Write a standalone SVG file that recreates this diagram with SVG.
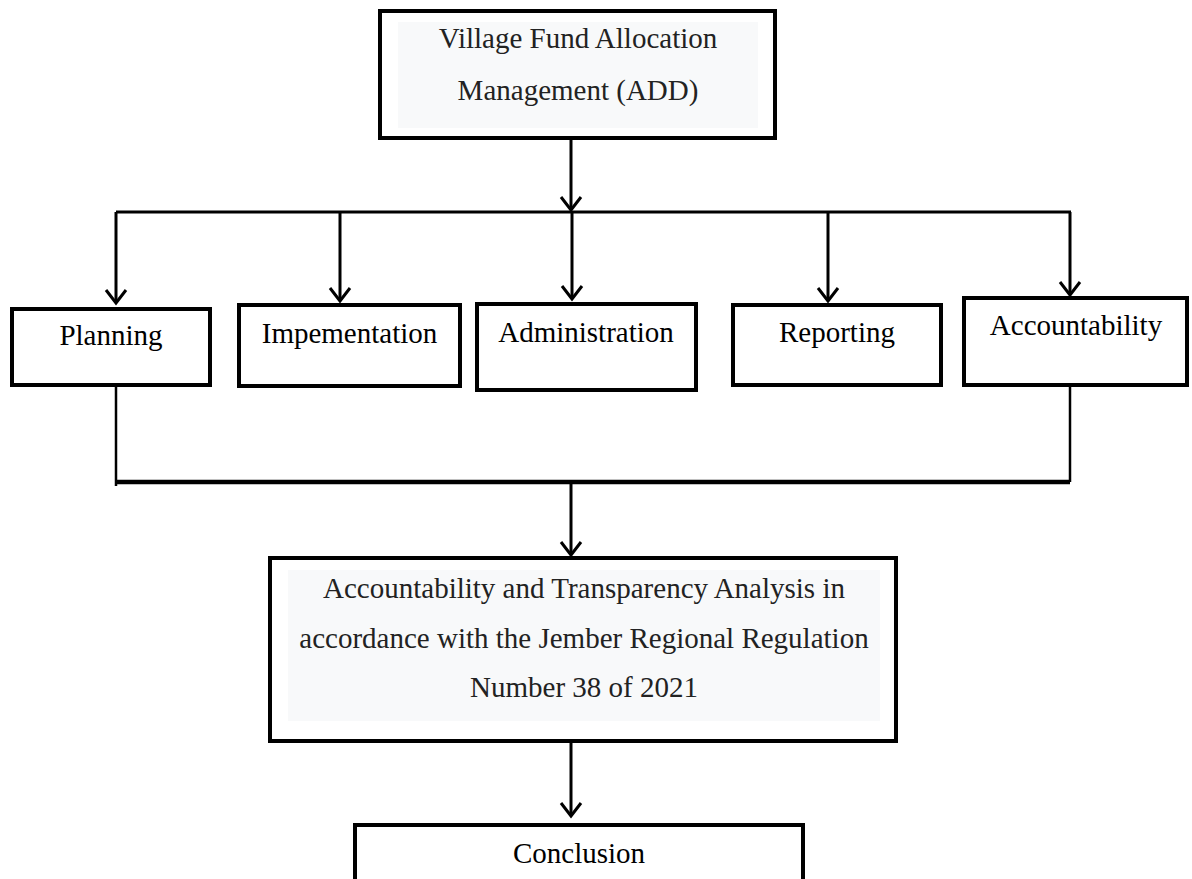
<svg xmlns="http://www.w3.org/2000/svg" width="1192" height="879" viewBox="0 0 1192 879">
<style>
.box{fill:#fff;stroke:#000;stroke-width:4}
.pane{fill:#f8f9fa;stroke:none}
.t{font-family:"Liberation Serif","Times New Roman",serif;font-size:29px;text-anchor:middle;fill:#000}
.td{fill:#222}
.ln{fill:none;stroke:#000;stroke-width:3}
.thin{stroke-width:2.5}
.bar{stroke-width:4.5}
</style>
<defs>
<marker id="arr" viewBox="-16 -12 18 24" refX="0" refY="0" markerWidth="18" markerHeight="24" markerUnits="userSpaceOnUse" orient="auto" overflow="visible">
<path d="M-13,-10 L0,0 L-13,10" fill="none" stroke="#000" stroke-width="3"/>
</marker>
</defs>
<rect width="1192" height="879" fill="#fff"/>
<g id="connectors">
<line class="ln" x1="571" y1="140" x2="571" y2="210" marker-end="url(#arr)"/>
<line class="ln" x1="116" y1="212" x2="1071" y2="212"/>
<line class="ln" x1="116" y1="212" x2="116" y2="303" marker-end="url(#arr)"/>
<line class="ln" x1="340" y1="212" x2="340" y2="301" marker-end="url(#arr)"/>
<line class="ln" x1="572" y1="212" x2="572" y2="299" marker-end="url(#arr)"/>
<line class="ln" x1="828" y1="212" x2="828" y2="301" marker-end="url(#arr)"/>
<line class="ln" x1="1070" y1="212" x2="1070" y2="295" marker-end="url(#arr)"/>
<line class="ln thin" x1="116" y1="387" x2="116" y2="486"/>
<line class="ln thin" x1="1070" y1="387" x2="1070" y2="482"/>
<line class="ln bar" x1="115" y1="482" x2="1070" y2="482"/>
<line class="ln" x1="571" y1="482" x2="571" y2="555" marker-end="url(#arr)"/>
<line class="ln" x1="571" y1="743" x2="571" y2="816" marker-end="url(#arr)"/>
</g>
<g id="node-add">
<rect class="box" x="380" y="11" width="395" height="127"/>
<rect class="pane" x="398" y="22" width="360" height="106"/>
<text class="t td" x="578" y="48">Village Fund Allocation</text>
<text class="t td" x="578" y="100">Management (ADD)</text>
</g>
<g id="node-planning">
<rect class="box" x="12" y="309" width="198" height="76"/>
<text class="t" x="111" y="345">Planning</text>
</g>
<g id="node-implementation">
<rect class="box" x="239" y="305" width="221" height="81"/>
<text class="t" x="349.5" y="343">Impementation</text>
</g>
<g id="node-administration">
<rect class="box" x="477" y="304" width="219" height="86"/>
<text class="t" x="586" y="342">Administration</text>
</g>
<g id="node-reporting">
<rect class="box" x="733" y="305" width="208" height="80"/>
<text class="t" x="837" y="342">Reporting</text>
</g>
<g id="node-accountability">
<rect class="box" x="964" y="298" width="223" height="87"/>
<text class="t" x="1076" y="335">Accountability</text>
</g>
<g id="node-analysis">
<rect class="box" x="270" y="558" width="626" height="183"/>
<rect class="pane" x="288" y="570" width="592" height="151"/>
<text class="t td" x="584" y="598">Accountability and Transparency Analysis in</text>
<text class="t td" x="584" y="648">accordance with the Jember Regional Regulation</text>
<text class="t td" x="584" y="697">Number 38 of 2021</text>
</g>
<g id="node-conclusion">
<rect class="box" x="355" y="825" width="448" height="80"/>
<text class="t" x="579" y="863">Conclusion</text>
</g>
</svg>
